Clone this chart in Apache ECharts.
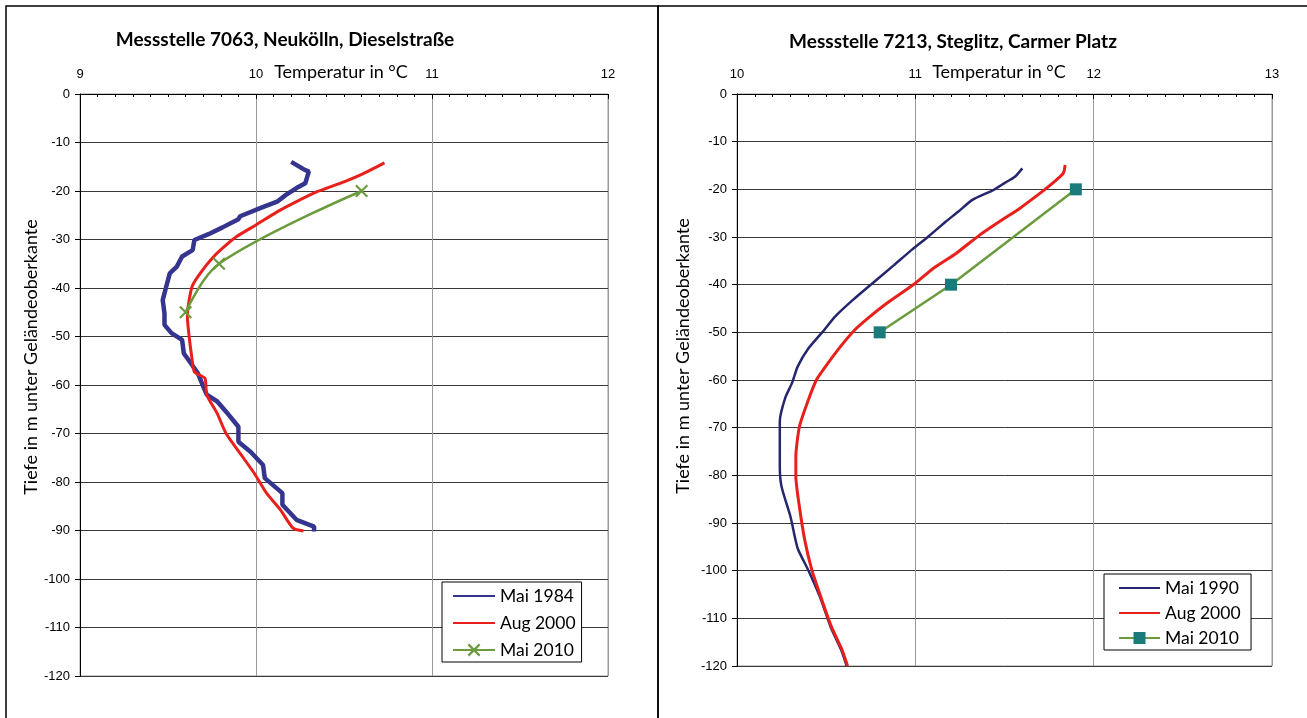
<!DOCTYPE html>
<html>
<head>
<meta charset="utf-8">
<script src="https://cdn.jsdelivr.net/npm/echarts@6/dist/echarts.min.js"></script>
<style>
  html, body { margin: 0; padding: 0; background: #fff; }
  #chart { width: 1307px; height: 718px; }
</style>
</head>
<body>
<div id="chart"></div>
<script>
// Messstelle 7063 (links)
const temp1984 = [10.2, 10.27, 10.3, 10.28, 10.23, 10.17, 10.12, 10.02, 9.91, 9.9, 9.81, 9.73, 9.65, 9.64, 9.58, 9.55, 9.51, 9.49, 9.47, 9.48, 9.48, 9.52, 9.58, 9.59, 9.63, 9.67, 9.7, 9.72, 9.78, 9.83, 9.9, 9.9, 9.97, 10.04, 10.05, 10.15, 10.15, 10.23, 10.33, 10.33];
const depth1984 = [-14, -15.5, -16, -18.4, -19.4, -20.8, -22.2, -23.6, -25.2, -25.8, -27.5, -28.9, -30.1, -32.2, -33.5, -35.6, -37, -39.7, -42.5, -45.2, -47.6, -49.3, -50.7, -53.5, -55.5, -57.6, -60.3, -62, -63.4, -65.5, -68.6, -71.7, -73.8, -76.5, -79.2, -82.3, -84.7, -87.8, -89.2, -90.2];
const tempAugL = [10.73, 10.61, 10.5, 10.35, 10.23, 10.12, 10.0, 9.89, 9.81, 9.75, 9.69, 9.64, 9.62, 9.61, 9.62, 9.635, 9.65, 9.71, 9.72, 9.78, 9.83, 9.91, 9.99, 10.06, 10.14, 10.21, 10.27];
const depthAugL = [-14.2, -16.4, -18.1, -20.1, -22.2, -24.3, -27, -29.4, -31.8, -33.9, -36.6, -39.4, -42.5, -45.9, -50, -54.2, -57.3, -58.6, -62, -65.9, -70, -74.1, -78.2, -82.3, -85.8, -89.5, -90.1];
const temp2010L = [10.6, 9.79, 9.6];
const depth2010L = [-20, -35, -45];

// Messstelle 7213 (rechts)
const temp1990 = [11.6, 11.56, 11.5, 11.44, 11.32, 11.24, 11.17, 11.06, 10.98, 10.88, 10.76, 10.65, 10.55, 10.48, 10.4, 10.34, 10.31, 10.27, 10.24, 10.24, 10.25, 10.3, 10.34, 10.4, 10.465, 10.525, 10.585, 10.615];
const depth1990 = [-15.6, -17.3, -18.7, -20.1, -22.2, -24.7, -26.8, -30.3, -32.7, -35.9, -39.7, -43.2, -46.7, -49.9, -53.4, -57.2, -60.5, -63.8, -68.7, -78.2, -82.4, -88.7, -95.3, -99.9, -105.5, -111.8, -116.7, -120];
const tempAugR = [11.84, 11.83, 11.77, 11.7, 11.585, 11.47, 11.36, 11.23, 11.1, 11.0, 10.84, 10.745, 10.66, 10.58, 10.49, 10.445, 10.4, 10.35, 10.33, 10.33, 10.35, 10.38, 10.42, 10.47, 10.53, 10.59, 10.62];
const depthAugR = [-14.9, -16.6, -18.7, -20.8, -24, -26.8, -29.6, -33.4, -36.6, -39.7, -43.9, -46.7, -49.5, -53, -57.5, -60, -64.2, -69.8, -76.1, -80.3, -86.6, -93.6, -99.9, -105.5, -111.8, -116.7, -120];
const temp2010R = [11.9, 11.2, 10.8];
const depth2010R = [-20, -40, -50];

const titles = ['Messstelle 7063, Neukölln, Dieselstraße', 'Messstelle 7213, Steglitz, Carmer Platz'];
const xRanges = [[9, 12], [10, 13]];

const zip = (xs, ys) => xs.map((x, i) => [x, ys[i]]);

const crossSymbol = 'path://M0,1.2L1.2,0L10,8.8L8.8,10Z M8.8,0L10,1.2L1.2,10L0,8.8Z';

const chart = echarts.init(document.getElementById('chart'));

const blue = '#35358f';
const navy = '#26266e';
const red = '#e8201c';
const green = '#6b9b3c';
const teal = '#1b7b7b';
const font = 'Lato';

function makeXAxis(i) {
  return {
    type: 'value', gridIndex: i, position: 'top',
    min: xRanges[i][0], max: xRanges[i][1], interval: 1,
    axisLine: { show: true, onZero: false, lineStyle: { color: '#000', width: 1 } },
    axisTick: { show: true, inside: true, length: 5, lineStyle: { color: '#000' } },
    minorTick: { show: true, splitNumber: 10, length: 3, lineStyle: { color: '#000' } },
    axisLabel: { fontFamily: 'Liberation Sans', fontSize: 13, color: '#000', margin: 13 },
    splitLine: { show: true, lineStyle: { color: '#999', width: 1 } }
  };
}

function makeYAxis(i) {
  return {
    type: 'value', gridIndex: i,
    min: -120, max: 0, interval: 10,
    axisLine: { show: true, onZero: false, lineStyle: { color: '#000', width: 1 } },
    axisTick: { show: true, length: 5, lineStyle: { color: '#000' } },
    axisLabel: { fontFamily: 'Liberation Sans', fontSize: 13, color: '#000', margin: 10 },
    splitLine: { show: true, lineStyle: { color: '#3a3a3a', width: 1 } }
  };
}

const legendText = { fontFamily: font, fontSize: 17.5, color: '#000', lineHeight: 18 };
const nameStyle = { fontFamily: font, fontSize: 18, fill: '#000', align: 'center', verticalAlign: 'middle' };

const option = {
  animation: false,
  backgroundColor: '#fff',
  title: [
    { text: titles[0], left: 280, top: 25, textAlign: 'center',
      textStyle: { fontFamily: font, fontWeight: 'bold', fontSize: 19, color: '#000' } },
    { text: titles[1], left: 948, top: 27, textAlign: 'center',
      textStyle: { fontFamily: font, fontWeight: 'bold', fontSize: 19, color: '#000' } }
  ],
  grid: [
    { left: 80, top: 94, width: 528, height: 582, show: true, borderColor: '#999', borderWidth: 1 },
    { left: 737, top: 94, width: 535, height: 572, show: true, borderColor: '#999', borderWidth: 1 }
  ],
  xAxis: [makeXAxis(0), makeXAxis(1)],
  yAxis: [makeYAxis(0), makeYAxis(1)],
  legend: [
    { orient: 'vertical', left: 442, top: 582, padding: [5, 6, 3, 10],
      itemWidth: 42, itemHeight: 16, itemGap: 9,
      backgroundColor: '#fff', borderColor: '#000', borderWidth: 1, borderRadius: 0,
      textStyle: legendText,
      data: ['Mai 1984', 'Aug 2000', 'Mai 2010'] },
    { orient: 'vertical', left: 1104, top: 574, padding: [5, 6, 3, 14],
      itemWidth: 41, itemHeight: 15, itemGap: 7,
      backgroundColor: '#fff', borderColor: '#000', borderWidth: 1, borderRadius: 0,
      textStyle: legendText,
      data: ['Mai 1990', 'Aug 2000 ', 'Mai 2010 '] }
  ],
  graphic: [
    { type: 'rect', shape: { x: 6, y: 6, width: 652, height: 730 }, style: { fill: 'none', stroke: '#000', lineWidth: 1.5 }, silent: true, z: -10 },
    { type: 'rect', shape: { x: 658, y: 6, width: 680, height: 730 }, style: { fill: 'none', stroke: '#000', lineWidth: 1.5 }, silent: true, z: -10 },
    { type: 'text', x: 341, y: 72, style: Object.assign({ text: 'Temperatur in °C' }, nameStyle) },
    { type: 'text', x: 999, y: 72, style: Object.assign({ text: 'Temperatur in °C' }, nameStyle) },
    { type: 'text', x: 31, y: 357, rotation: Math.PI / 2,
      style: Object.assign({ text: 'Tiefe in m unter Geländeoberkante' }, nameStyle) },
    { type: 'text', x: 683, y: 356, rotation: Math.PI / 2,
      style: Object.assign({ text: 'Tiefe in m unter Geländeoberkante' }, nameStyle) }
  ],
  series: [
    { name: 'Mai 1984', type: 'line', xAxisIndex: 0, yAxisIndex: 0, symbol: 'none',
      lineStyle: { color: blue, width: 4.5 }, itemStyle: { color: blue, opacity: 0 },
      data: zip(temp1984, depth1984) },
    { name: 'Aug 2000', type: 'line', xAxisIndex: 0, yAxisIndex: 0, symbol: 'none', smooth: 0.2,
      lineStyle: { color: red, width: 3 }, itemStyle: { color: red, opacity: 0 },
      data: zip(tempAugL, depthAugL) },
    { name: 'Mai 2010', type: 'line', xAxisIndex: 0, yAxisIndex: 0, symbol: crossSymbol, symbolSize: 13, smooth: 0.35,
      lineStyle: { color: green, width: 2.5 }, itemStyle: { color: green },
      data: zip(temp2010L, depth2010L) },
    { name: 'Mai 1990', type: 'line', xAxisIndex: 1, yAxisIndex: 1, symbol: 'none', smooth: 0.2,
      lineStyle: { color: navy, width: 2.5 }, itemStyle: { color: navy, opacity: 0 },
      data: zip(temp1990, depth1990) },
    { name: 'Aug 2000 ', type: 'line', xAxisIndex: 1, yAxisIndex: 1, symbol: 'none', smooth: 0.2,
      lineStyle: { color: red, width: 3 }, itemStyle: { color: red, opacity: 0 },
      data: zip(tempAugR, depthAugR) },
    { name: 'Mai 2010 ', type: 'line', xAxisIndex: 1, yAxisIndex: 1, symbol: 'rect', symbolSize: 12,
      lineStyle: { color: green, width: 2.5 }, itemStyle: { color: teal },
      data: zip(temp2010R, depth2010R) }
  ]
};

chart.setOption(option);
</script>
</body>
</html>
